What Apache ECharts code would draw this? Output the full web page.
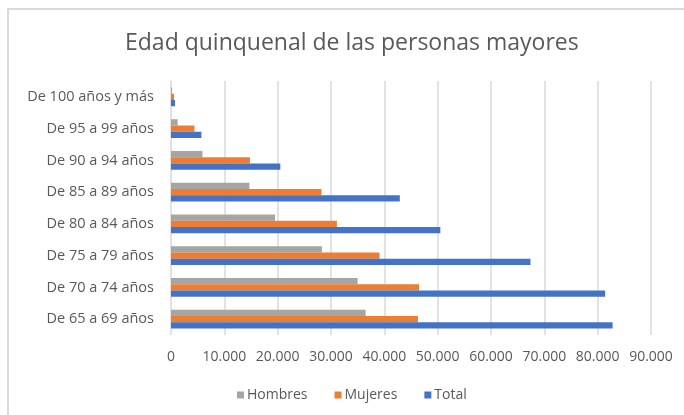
<!DOCTYPE html>
<html>
<head>
<meta charset="utf-8">
<script src="https://cdn.jsdelivr.net/npm/echarts@6/dist/echarts.min.js"></script>
<style>
  html, body { margin: 0; padding: 0; background: #fff; overflow: hidden; }
  #frame { position: absolute; left: 7px; top: 8px; width: 720px; height: 440px; border: 2px solid #d9d9d9; }
  #main { position: absolute; left: 0; top: 0; width: 684px; height: 415px; }
</style>
</head>
<body>
<div id="frame"></div>
<div id="main"></div>
<script>
// categorias (de abajo hacia arriba)
const categorias = [
  "De 65 a 69 años", "De 70 a 74 años", "De 75 a 79 años", "De 80 a 84 años",
  "De 85 a 89 años", "De 90 a 94 años", "De 95 a 99 años", "De 100 años y más"
];
const hombres = [36500, 35000, 28300, 19500, 14700, 5900, 1250, 190];
const mujeres = [46300, 46500, 39100, 31100, 28200, 14800, 4400, 560];
const total   = [82800, 81400, 67400, 50500, 42900, 20500, 5700, 750];
const ticks = { min: 0, max: 90000, interval: 10000 };

const txt = "#595959";
const fuente = "'Open Sans', sans-serif";

function miles(v) {
  return String(v).replace(/\B(?=(\d{3})+(?!\d))/g, ".");
}

const chart = echarts.init(document.getElementById("main"));
chart.setOption({
  animation: false,
  textStyle: { fontFamily: fuente },
  title: {
    text: "Edad quinquenal de las personas mayores",
    left: 120,
    top: 27,
    textStyle: { fontSize: 23, fontWeight: "normal", color: txt, fontFamily: fuente }
  },
  legend: {
    data: ["Hombres", "Mujeres", "Total"],
    bottom: 8,
    left: 232,
    itemWidth: 7,
    itemHeight: 7,
    itemGap: 27,
    icon: "rect",
    textStyle: { fontSize: 14, color: txt, padding: [0, 0, 0, -2] }
  },
  grid: { left: 171, right: 33, top: 81, bottom: 80, containLabel: false },
  xAxis: {
    type: "value",
    min: ticks.min,
    max: ticks.max,
    interval: ticks.interval,
    axisLine: { show: false },
    axisTick: { show: false },
    axisLabel: { color: txt, fontSize: 14, margin: 15, formatter: miles },
    splitLine: { lineStyle: { color: "#d9d9d9", width: 1.5 } }
  },
  yAxis: {
    type: "category",
    data: categorias,
    axisLine: { show: false },
    axisTick: { show: false },
    axisLabel: { color: txt, fontSize: 14.5, margin: 17 }
  },
  series: [
    { name: "Hombres", type: "bar", data: hombres, itemStyle: { color: "#A5A5A5" }, barGap: "0%", barCategoryGap: "41%" },
    { name: "Mujeres", type: "bar", data: mujeres, itemStyle: { color: "#ED7D31" } },
    { name: "Total", type: "bar", data: total, itemStyle: { color: "#4472C4" } }
  ]
});
</script>
</body>
</html>
